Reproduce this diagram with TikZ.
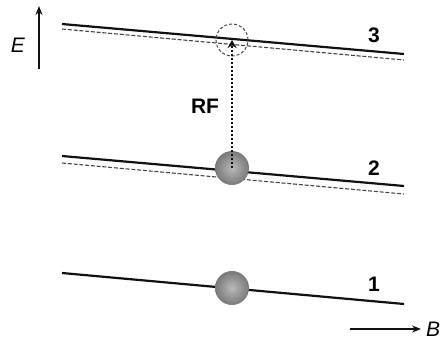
\documentclass[tikz,border=0pt]{standalone}
\usepackage{fontspec}
\setmainfont{Liberation Sans}
\usetikzlibrary{arrows.meta,positioning,shadings}
\definecolor{ink}{HTML}{111111}
\definecolor{shade}{HTML}{444444}
\tikzset{levelline/.style={draw=ink,line width=2.2pt},shiftline/.style={draw=shade,line width=1.1pt,dash pattern=on 4pt off 1.8pt},atom/.style={circle,minimum size=34pt,inner sep=0pt,shading=radial,inner color=gray!55,outer color=gray!95!black},target/.style={circle,draw=shade,line width=1pt,dash pattern=on 3pt off 2pt,minimum size=32pt,inner sep=0pt},rfarrow/.style={draw=ink,line width=2.2pt,dash pattern=on 2pt off 2pt,-{Stealth[length=8pt,width=9pt]}},axisarrow/.style={draw=ink,line width=1.4pt,-{Stealth[length=9pt,width=7pt]}},levellabel/.style={font=\fontsize{21}{25}\selectfont\bfseries},axislabel/.style={font=\fontsize{21}{25}\selectfont\itshape}}

\begin{document}
\begin{tikzpicture}[x=1pt,y=-1pt]
\useasboundingbox (0,0) rectangle (448,341);
% levels
\draw[shiftline] (62,29)--(404,60);
\draw[levelline] (62,24)--(404,54);
\draw[shiftline] (62,163)--(404,194);
\draw[levelline] (62,156)--(404,186);
\draw[levelline] (62,273)--(404,304);
\node[levellabel] (n3) at (374,35) {3};
\node[levellabel] (n2) at (374,168) {2};
\node[levellabel] (n1) at (374,284) {1};
% atoms
\node[atom] (b1) at (232,288) {};
\node[atom] (b2) at (232,168) {};
\node[target] (c3) at (232,40) {};
\draw[rfarrow] (b2.center) -- (c3.center);
\node[levellabel] (rf) at (205,106) {RF};
% axes
\coordinate (e0) at (39,69);\coordinate (e1) at (39,6);
\draw[axisarrow] (e0) -- (e1);
\node[axislabel] (el) at (18,45) {E};
\coordinate (b0) at (350,329);\coordinate (bb) at (421,329);
\draw[axisarrow] (b0) -- (bb);
\node[axislabel,anchor=west,inner sep=0pt] (bl) at (426,329) {B};
\end{tikzpicture}
\end{document}
